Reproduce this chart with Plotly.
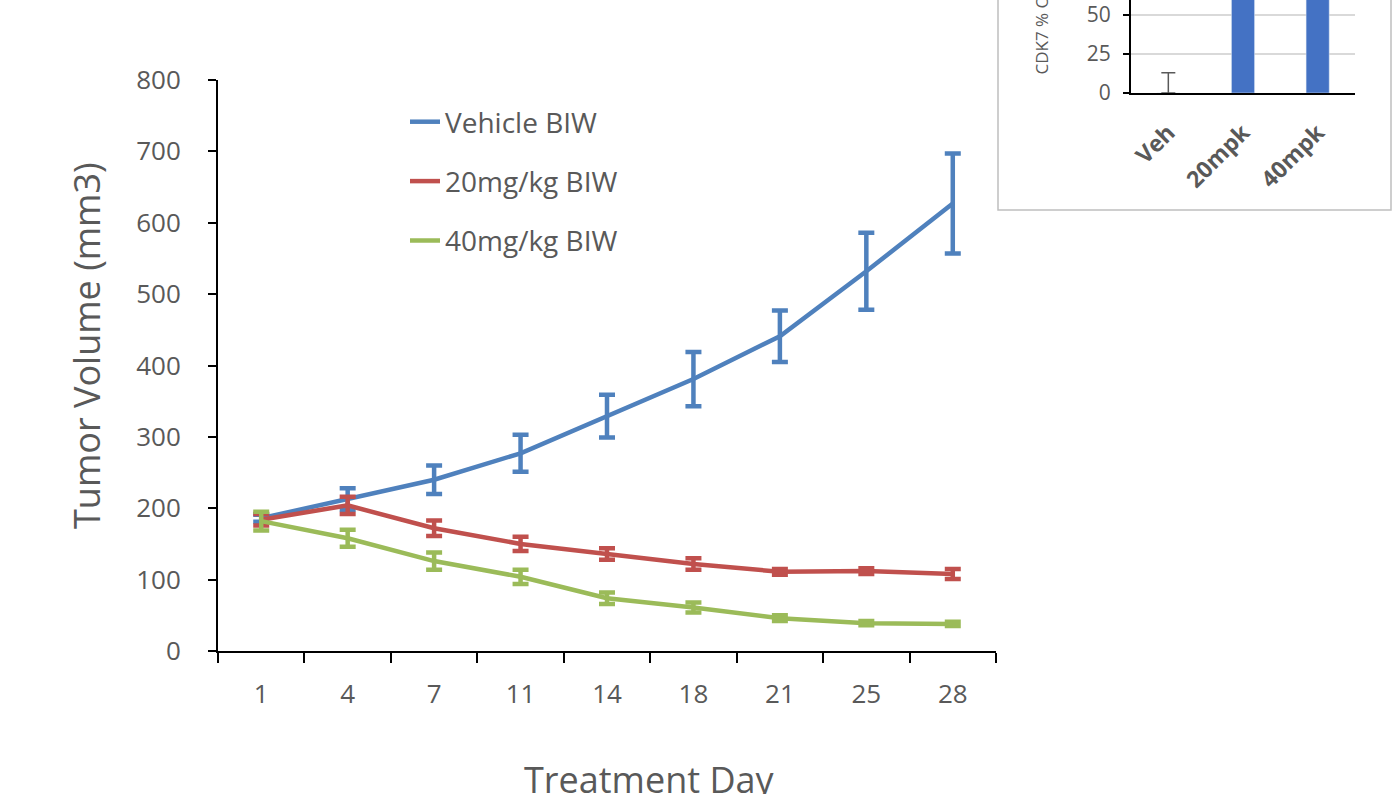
import plotly.graph_objects as go

# ---- data ----
days = ["1", "4", "7", "11", "14", "18", "21", "25", "28"]
vehicle = [186, 213, 240, 277, 329, 381, 441, 532, 627]
vehicle_err = [5, 15, 20, 26, 30, 38, 36, 54, 70]
mg20 = [184, 204, 172, 150, 136, 122, 111, 112, 108]
mg20_err = [8, 12, 11, 10, 8, 8, 4, 4, 7]
mg40 = [182, 158, 126, 104, 74, 61, 46, 39, 38]
mg40_err = [13, 12, 12, 10, 8, 7, 4, 3, 3]

inset_groups = ["Veh", "20mpk", "40mpk"]
inset_occ = [0, 95, 96]
inset_err = [13, 0, 0]

W, H = 1396, 794
FONT = "Open Sans"
GRAY = "#595959"

def px_x(p):
    return p / W

def px_y(p):
    return 1 - p / H

fig = go.Figure()

series = [
    ("Vehicle BIW", vehicle, vehicle_err, "#4F81BD"),
    ("20mg/kg BIW", mg20, mg20_err, "#C0504D"),
    ("40mg/kg BIW", mg40, mg40_err, "#9BBB59"),
]
for i, (name, vals, errs, col) in enumerate(series):
    fig.add_trace(go.Scatter(
        x=days, y=vals, name=name, mode="lines",
        line=dict(color=col, width=4.5),
        error_y=dict(type="data", array=errs, visible=True, color=col,
                     thickness=4.5, width=8),
        legendgroup=f"g{i}",
        xaxis="x", yaxis="y",
    ))

# inset bar chart
fig.add_trace(go.Bar(
    x=inset_groups, y=inset_occ, marker_color="#4472C4",
    error_y=dict(type="data", symmetric=False, array=inset_err,
                 arrayminus=[0, 0, 0], color=GRAY, thickness=1.5, width=7),
    width=0.31, showlegend=False, xaxis="x2", yaxis="y2",
))

# inset frame
fig.add_shape(type="rect", xref="paper", yref="paper",
              x0=px_x(998), x1=px_x(1391), y0=px_y(210), y1=px_y(-5),
              line=dict(color="#BFBFBF", width=1.5), fillcolor="white",
              layer="below")

# axis titles
fig.add_annotation(text="CDK7 % Occupancy", xref="paper", yref="paper",
                   x=px_x(1041), y=px_y(77), xanchor="center",
                   yanchor="bottom", textangle=-90, showarrow=False,
                   font=dict(family=FONT, size=17, color=GRAY))
fig.add_annotation(text="Tumor Volume (mm3)", xref="paper", yref="paper",
                   x=px_x(86), y=px_y(346), xanchor="center",
                   yanchor="middle", textangle=-90, showarrow=False,
                   font=dict(family=FONT, size=36, color=GRAY))
fig.add_annotation(text="Treatment Day", xref="paper", yref="paper",
                   x=px_x(649), y=px_y(779), xanchor="center",
                   yanchor="middle", showarrow=False,
                   font=dict(family=FONT, size=36, color=GRAY))

fig.update_layout(
    width=W, height=H,
    margin=dict(l=0, r=0, t=0, b=0, autoexpand=False),
    paper_bgcolor="white", plot_bgcolor="rgba(0,0,0,0)",
    font=dict(family=FONT, color=GRAY),
    showlegend=True,
    legend=dict(x=px_x(405), y=px_y(97), xanchor="left", yanchor="top",
                font=dict(family=FONT, size=28, color=GRAY),
                tracegroupgap=20, traceorder="grouped",
                bgcolor="rgba(0,0,0,0)"),
    xaxis=dict(domain=[px_x(218), px_x(996)], anchor="y", automargin=False,
               type="category", range=[-0.5, 8.5],
               tickson="boundaries", ticks="outside", ticklen=10,
               tickwidth=2, tickcolor="black",
               showline=True, linecolor="black", linewidth=2,
               showgrid=False, zeroline=False, ticklabelstandoff=19,
               tickfont=dict(family=FONT, size=26, color=GRAY)),
    yaxis=dict(domain=[px_y(651), px_y(80)], anchor="x", automargin=False,
               range=[0, 800], dtick=100,
               ticks="outside", ticklen=8, tickwidth=2, tickcolor="black",
               showline=True, linecolor="black", linewidth=2,
               showgrid=False, zeroline=False, ticklabelstandoff=22,
               tickfont=dict(family=FONT, size=26, color=GRAY)),
    xaxis2=dict(domain=[px_x(1131), px_x(1355)], anchor="y2",
                automargin=False,
                type="category", range=[-0.5, 2.5],
                tickangle=-45, showline=True, linecolor="black",
                linewidth=2, showgrid=False, zeroline=False, ticks="",
                ticklabelstandoff=15,
                tickfont=dict(family=FONT, size=23, color=GRAY,
                              weight="bold")),
    yaxis2=dict(domain=[px_y(93), 1.0], anchor="x2", automargin=False,
                range=[0, 59.6], tickvals=[0, 25, 50],
                showline=True, linecolor="black", linewidth=2,
                showgrid=True, gridcolor="#D9D9D9", gridwidth=1.5,
                zeroline=False, ticks="outside", ticklen=6,
                tickcolor="black", tickwidth=2, ticklabelstandoff=8,
                tickfont=dict(family=FONT, size=21, color=GRAY)),
)

fig.write_html("out.html")
